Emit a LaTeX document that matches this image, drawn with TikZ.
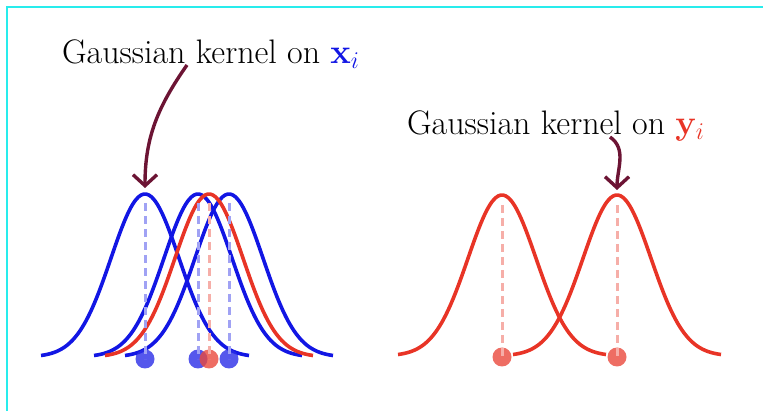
\documentclass[tikz,border=0pt]{standalone}
\usepackage{amsmath}
\usepackage{tikz}
\usetikzlibrary{arrows.meta}
\definecolor{KernBlue}{RGB}{18, 22, 228}
\definecolor{KernRed}{RGB}{232, 52, 38}
\definecolor{ArrowWine}{RGB}{108, 20, 52}
\definecolor{FrameCyan}{RGB}{40, 236, 236}
\tikzset{
    bluecurve/.style={draw=KernBlue, line width=1.8pt},
    redcurve/.style={draw=KernRed, line width=1.8pt},
    bluemean/.style={draw=KernBlue!40, line width=1.5pt, dash pattern=on 4pt off 2.5pt},
    redmean/.style={draw=KernRed!40, line width=1.5pt, dash pattern=on 4pt off 2.5pt},
    bluedot/.style={circle, fill=KernBlue!90, fill opacity=0.8, minimum size=9.5pt, inner sep=0pt},
    reddot/.style={circle, fill=KernRed!90, fill opacity=0.8, minimum size=9.5pt, inner sep=0pt},
    pointer/.style={-{Straight Barb[length=5.5pt, width=12pt]}, line width=1.7pt, draw=ArrowWine},
    kernlabel/.style={font=\fontsize{17}{20}\selectfont, inner sep=0pt}
}

\begin{document}
\begin{tikzpicture}[
          x=0.5pt, y=0.5pt,
          gauss/.style={domain=-104:104, samples=80, smooth}
        ]
        \useasboundingbox (0,0) rectangle (763,411);
        \draw[FrameCyan, line width=1pt] (7,0) -- (7,404) -- (763,404);

        % labels
        \node[kernlabel] (xlabel) at (211,357) {Gaussian kernel on $\color{KernBlue}\mathbf{x}_i$};
        \node[kernlabel] (ylabel) at (556,285) {Gaussian kernel on $\color{KernRed}\mathbf{y}_i$};

        % kernels on x_i
        \foreach \c/\n in {145/1, 198/2, 229/3} {
            \draw[bluecurve] plot[gauss] ({\c+\x}, {54+163*exp(-(\x*\x)/2312)});
            \coordinate (xpeak\n) at (\c,223);
        }
        \draw[redcurve] plot[gauss] ({209+\x}, {54+163*exp(-(\x*\x)/2312)});

        % kernels on y_i
        \foreach \c/\n in {502/1, 617/2} {
            \draw[redcurve] plot[gauss] ({\c+\x}, {55+161*exp(-(\x*\x)/2312)});
            \coordinate (ypeak\n) at (\c,221);
        }

        % means and points
        \foreach \c/\n in {145/1, 198/2, 229/3} {
            \node[bluedot] (xdot\n) at (\c,52) {};
            \draw[bluemean] (\c,208) -- (xdot\n.center);
        }
        \node[reddot] (xdot4) at (209,52) {};
        \draw[redmean] (209,208) -- (xdot4.center);
        \foreach \c/\n in {502/1, 617/2} {
            \node[reddot] (ydot\n) at (\c,54) {};
            \draw[redmean] (\c,206) -- (ydot\n.center);
        }

        % pointers
        \coordinate (xtail) at (187,346);
        \coordinate (ytail) at (610,274);
        \draw[pointer] (xtail) to[out=235, in=90] (xpeak1);
        \draw[pointer] (ytail) to[out=-35, in=90] (ypeak2);
      \end{tikzpicture}
\end{document}
